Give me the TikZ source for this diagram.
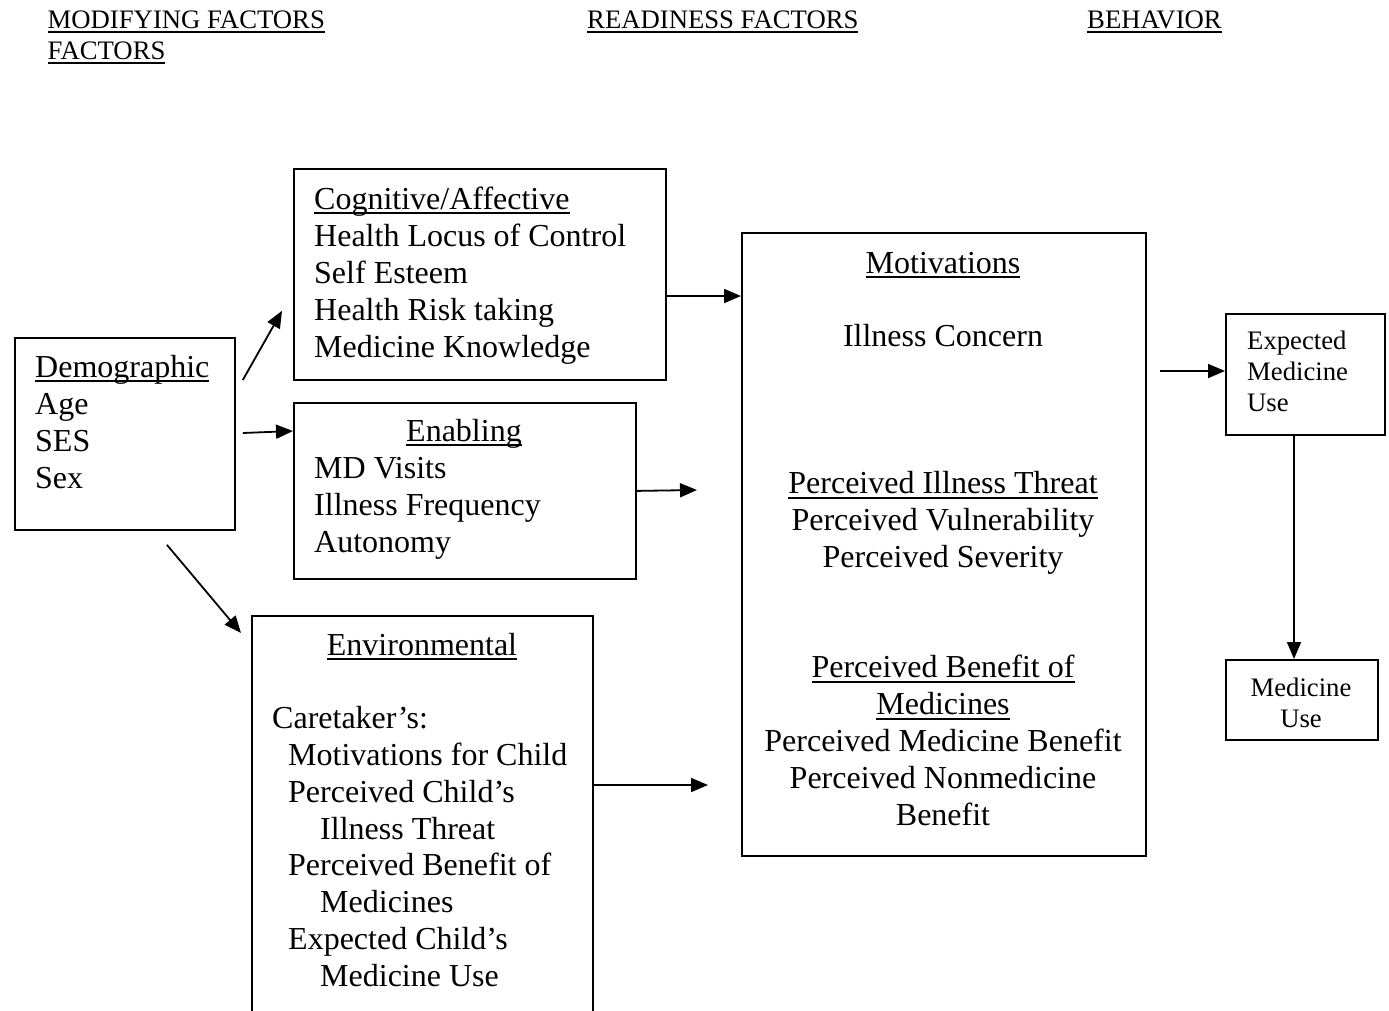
\documentclass[tikz,border=0pt]{standalone}
\usepackage{fontspec}
\setmainfont{Liberation Serif}
\usetikzlibrary{positioning, arrows.meta, calc}

\newcommand{\ulin}[1]{\setbox0=\hbox{#1}\rlap{\rule[-5pt]{\wd0}{1.6pt}}\box0}

\tikzset{
  box/.style={draw, line width=1.8pt, inner sep=0pt, anchor=north west},
  txt/.style={inner sep=0pt, anchor=base west, font=\fontsize{32}{37}\selectfont},
  ctxt/.style={txt, anchor=base},
  small/.style={inner sep=0pt, anchor=base west, font=\fontsize{26.7}{31}\selectfont},
  arr/.style={-{Triangle[length=17pt, width=14pt]}, line width=1.8pt}
}

\begin{document}
\begin{tikzpicture}[x=1pt, y=-1pt]
  \path[use as bounding box, clip] (0,0) rectangle (1389,1010);

  % Headers
  \node[small] (hmod) at (47.5,28) {\ulin{MODIFYING FACTORS}};
  \node[small] (hmod2) at (47.5,59) {\ulin{FACTORS}};
  \node[small] (hread) at (587,28) {\ulin{READINESS FACTORS}};
  \node[small] (hbeh) at (1087,28) {\ulin{BEHAVIOR}};

  % Boxes
  \node[box, minimum width=220, minimum height=192] (demo) at (14,337) {};
  \node[box, minimum width=372, minimum height=211] (cog) at (293,168) {};
  \node[box, minimum width=342, minimum height=176] (enab) at (293,402) {};
  \node[box, minimum width=341, minimum height=430] (env) at (251,615) {};
  \node[box, minimum width=404, minimum height=623] (mot) at (741,232) {};
  \node[box, minimum width=159, minimum height=121] (expuse) at (1225,313) {};
  \node[box, minimum width=152, minimum height=80] (meduse) at (1225,659) {};

  % Demographic
  \node[txt] (demo-0) at (35,377) {\ulin{Demographic}};
  \foreach \t [count=\i] in {Age, SES, Sex}
    \node[txt] (demo-\i) at (35,{377+37*\i}) {\t};

  % Cognitive/Affective
  \node[txt] (cog-0) at (314,209) {\ulin{Cognitive/Affective}};
  \foreach \t [count=\i] in {Health Locus of Control, Self Esteem, Health Risk taking, Medicine Knowledge}
    \node[txt] (cog-\i) at (314,{209+37*\i}) {\t};

  % Enabling
  \node[ctxt] (enab-0) at (464,441) {\ulin{Enabling}};
  \foreach \t [count=\i] in {MD Visits, Illness Frequency, Autonomy}
    \node[txt] (enab-\i) at (314,{441+37*\i}) {\t};

  % Environmental
  \node[ctxt] (env-0) at (422,655) {\ulin{Environmental}};
  \foreach \x/\k/\t [count=\i] in {272/2/Caretaker’s:, 288/3/Motivations for Child, 288/4/Perceived Child’s,
      320/5/Illness Threat, 288/6/Perceived Benefit of, 320/7/Medicines, 288/8/Expected Child’s, 320/9/Medicine Use}
    \node[txt] (env-\i) at (\x,{655+36.8*\k}) {\t};

  % Motivations
  \foreach \k/\t [count=\i] in {0/\ulin{Motivations}, 2/Illness Concern, 6/\ulin{Perceived Illness Threat},
      7/Perceived Vulnerability, 8/Perceived Severity, 11/\ulin{Perceived Benefit of}, 12/\ulin{Medicines},
      13/Perceived Medicine Benefit, 14/Perceived Nonmedicine, 15/Benefit}
    \node[ctxt] (mot-\i) at (943,{273+36.8*\k}) {\t};

  % Behavior
  \foreach \t [count=\i from 0] in {Expected, Medicine, Use}
    \node[small] (expuse-\i) at (1247,{349+31.3*\i}) {\t};
  \foreach \t [count=\i from 0] in {Medicine, Use}
    \node[small, anchor=base] (meduse-\i) at (1301,{696+31.3*\i}) {\t};

  % Free arrow ends
  \coordinate (enabto) at (697,490);
  \coordinate (envto) at (708,785);
  \coordinate (motfrom) at (1160,371);

  % Arrows
  \draw[arr] ($(demo.north east)+(7,43)$) -- ($(cog.south west)+(-11,-70)$);
  \draw[arr] ($(demo.north east)+(7,96)$) -- ($(enab.north west)+(0,29)$);
  \draw[arr] ($(demo.south)+(42,14)$) -- ($(env.north west)+(-10,18)$);
  \draw[arr] ($(cog.north east)+(0,128)$) -- ($(mot.north west)+(0,64)$);
  \draw[arr] (enab.east) -- (enabto);
  \draw[arr] ($(env.north east)+(0,170)$) -- (envto);
  \draw[arr] (motfrom) -- ($(expuse.north west)+(0,58)$);
  \draw[arr] ($(expuse.south west)+(69,0)$) -- ($(meduse.north west)+(69,0)$);
\end{tikzpicture}
\end{document}
